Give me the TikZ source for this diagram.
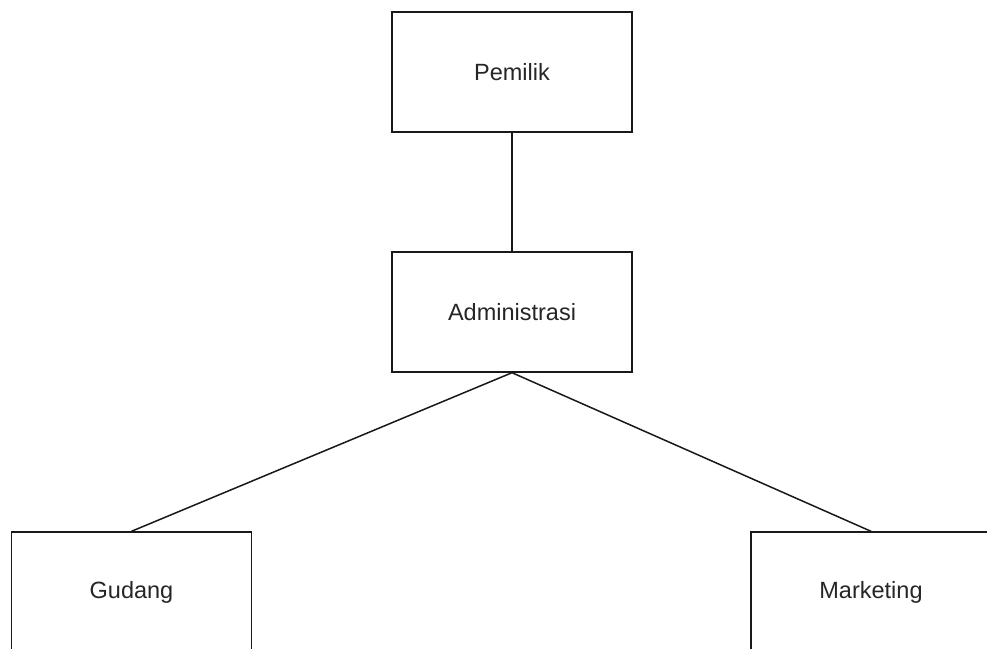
\documentclass[tikz,border=0pt]{standalone}
\usepackage{fontspec}
\setmainfont{Liberation Sans}
\begin{document}
\begin{tikzpicture}[x=1pt,y=-1pt,
  box/.style={draw=black!90,line width=1.4pt,minimum width=240pt,minimum height=120pt,inner sep=0pt,fill=white,text=black!85,font=\fontsize{23.5}{28}\selectfont},
  link/.style={draw=black!90,line width=1.5pt}]
\useasboundingbox (0,0) rectangle (987,648);
\clip (0,0) rectangle (987,648);
\fill[white] (0,0) rectangle (987,648);
\node[box] (pemilik) at (512,72) {Pemilik};
\node[box] (admin) at (512,312) {Administrasi};
\node[box] (gudang) at (131.5,592) {Gudang};
\node[box] (marketing) at (871,592) {Marketing};
\draw[link] (pemilik.south) -- (admin.north);
\draw[link] (admin.south) -- (gudang.north);
\draw[link] (admin.south) -- (marketing.north);
\end{tikzpicture}
\end{document}
